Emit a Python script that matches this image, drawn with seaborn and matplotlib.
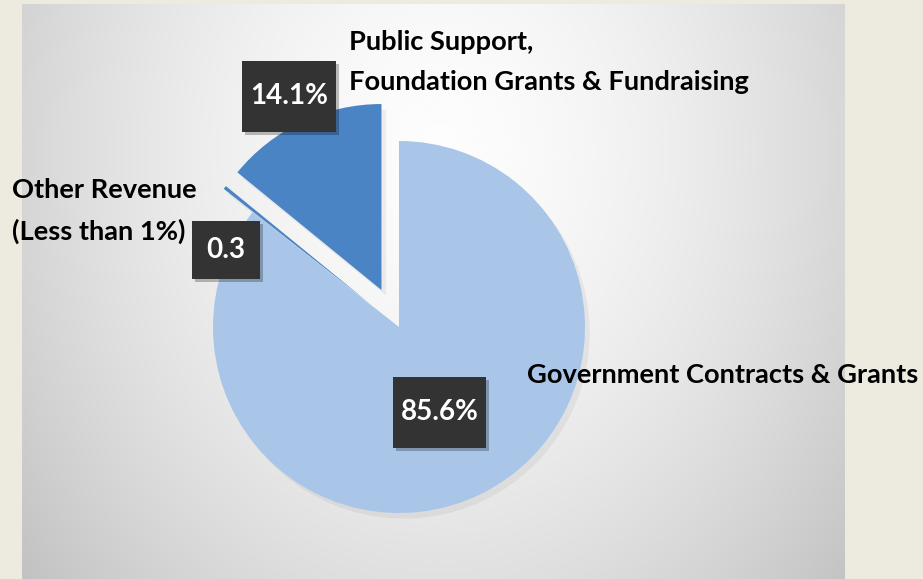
import numpy as np
import seaborn as sns
import matplotlib.pyplot as plt
from matplotlib.patches import Rectangle

# revenue shares (percent), in drawing order (counter-clockwise from top)
categories = ['Public Support,\nFoundation Grants & Fundraising',
              'Other Revenue\n(Less than 1%)',
              'Government Contracts & Grants']
shares = [14.1, 0.3, 85.6]
value_labels = ['14.1%', '0.3', '85.6%']

sns.set_theme(style='white')
plt.rcParams['font.family'] = ['Lato', 'DejaVu Sans']

W, H, DPI = 923, 579, 100
fig = plt.figure(figsize=(W / DPI, H / DPI), dpi=DPI, facecolor='#edeadf')

# grey panel with soft radial gradient
bg = fig.add_axes([0, 0, 1, 1])
bg.set_xlim(0, W)
bg.set_ylim(H, 0)
bg.axis('off')
px0, px1, py0 = 22, 845, 4
xx, yy = np.meshgrid(np.linspace(px0, px1, 300), np.linspace(py0, H, 220))
d = np.sqrt(((xx - 440) / 480) ** 2 + ((yy - 150) / 600) ** 2)
shade = np.clip(0.99 - 0.19 * d ** 1.6, 0.76, 1.0)
bg.imshow(shade, cmap='gray', vmin=0, vmax=1, extent=(px0, px1, H, py0),
          aspect='auto', interpolation='bicubic')

# pie axes: 1 data unit = pie radius (186 px), centre at (399, 327) px
R, cx, cy = 186.0, 399, 327
ax = fig.add_axes([0, 0, 1, 1])
ax.set_aspect('equal', adjustable='box')
ax.axis('off')

colors = ['#4a84c4', '#4a84c4', '#a9c5e8']
explode = [0.22, 0.2, 0.0]

# faint shadow under slices
ax.pie(shares, explode=explode, startangle=90, counterclock=True,
       colors=['#8a8a8a'] * 3, center=(0.025, -0.03),
       wedgeprops=dict(linewidth=0, alpha=0.12), radius=1.0)
ax.pie(shares, explode=explode, startangle=90, counterclock=True,
       colors=colors, wedgeprops=dict(linewidth=0), radius=1.0)
ax.set_xlim(-cx / R, (W - cx) / R)
ax.set_ylim(-(H - cy) / R, cy / R)


def p2d(x, y):
    return (x - cx) / R, (cy - y) / R


# dark value boxes (centre px, size px)
boxes = [((289, 96), (94, 71)), ((226, 250), (67, 58)), ((440, 412), (93, 71))]
for lab, ((bx, by), (bw, bh)) in zip(value_labels, boxes):
    x0, y0 = p2d(bx - bw / 2, by + bh / 2)
    ax.add_patch(Rectangle((x0 + 3 / R, y0 - 3 / R), bw / R, bh / R,
                           facecolor='#000000', alpha=0.25, linewidth=0, zorder=4))
    ax.add_patch(Rectangle((x0, y0), bw / R, bh / R,
                           facecolor='#333333', linewidth=0, zorder=5))
    tx, ty = p2d(bx, by)
    ax.text(tx, ty, lab, color='white', fontsize=20, fontweight='bold',
            ha='center', va='center', zorder=6)

# category labels
label_pos = [(349, 62), (12, 211), (527, 375)]
for lab, (lx, ly) in zip(categories, label_pos):
    tx, ty = p2d(lx, ly)
    ax.text(tx, ty, lab, color='black', fontsize=19.6, fontweight='bold',
            ha='left', va='center', linespacing=1.8, zorder=6)

fig.savefig('out.png', dpi=DPI, facecolor=fig.get_facecolor())
